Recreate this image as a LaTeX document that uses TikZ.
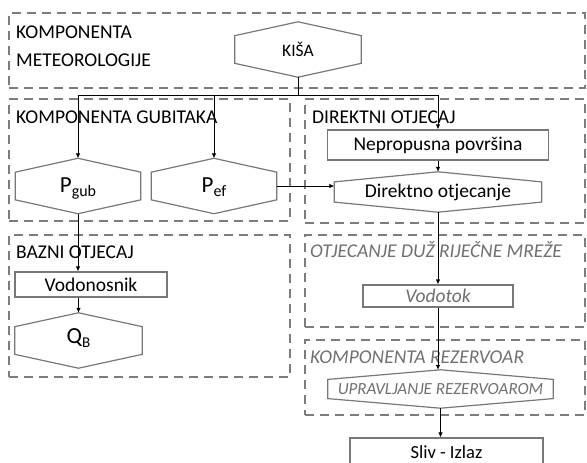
\documentclass[tikz,border=0pt]{standalone}
\usepackage{fontspec}
\setmainfont{Carlito}
\usepackage{xcolor}
\usepackage{tikz}
\usetikzlibrary{arrows.meta, positioning, calc}
\definecolor{framegray}{RGB}{125, 125, 125}
\definecolor{shapegray}{RGB}{120, 120, 120}
\definecolor{textgray}{RGB}{112, 112, 112}

% hexagon outline drawn round a (borderless) node
\newcommand{\hexoutline}[1]{%
    \draw[hex_line] ($(#1.north west)!0.25!(#1.south west)$) -- (#1.north)
        -- ($(#1.north east)!0.25!(#1.south east)$) -- ($(#1.south east)!0.25!(#1.north east)$)
        -- (#1.south) -- ($(#1.south west)!0.25!(#1.north west)$) -- cycle;
}

\begin{document}
\begin{tikzpicture}[
    x=1pt, y=-1pt,
    >=Latex,
    group/.style={
        rectangle, draw=framegray, line width=2pt, dash pattern=on 9pt off 6pt,
        inner sep=0pt
    },
    group_title/.style={anchor=base west, inner sep=0pt, font=\fontsize{19.5}{28}\selectfont},
    group_title_it/.style={group_title, text=textgray, font=\fontsize{19.5}{28}\selectfont\itshape},
    hex_line/.style={draw=shapegray, line width=1.2pt},
    hexnode/.style={rectangle, inner sep=0pt, align=center, font=\fontsize{19.5}{23}\selectfont},
    box/.style={
        rectangle, draw=shapegray, line width=1.2pt, fill=white, inner sep=0pt,
        align=center, font=\fontsize{19.5}{23}\selectfont
    },
    flow/.style={draw=black, line width=0.8pt, -{Latex[length=5pt,width=4.5pt]}},
    plain/.style={draw=black, line width=0.8pt}
]
    \useasboundingbox (0,0) rectangle (587,463);
    \clip (0,0) rectangle (587,463);

    % --- Dashed component frames ---
    \node[group, minimum width=576, minimum height=75] (meteo) at (297, 50.5) {};
    \node[group, minimum width=281, minimum height=122] (gubici) at (149.5, 160) {};
    \node[group, minimum width=280, minimum height=124] (direktni) at (445, 161) {};
    \node[group, minimum width=281, minimum height=142] (bazni) at (149.5, 306) {};
    \node[group, minimum width=280, minimum height=92] (mreza) at (445, 281) {};
    \node[group, minimum width=280, minimum height=75] (rezervoar) at (445, 377.5) {};

    % --- Frame titles ---
    \node[group_title, anchor=north west, align=left] (t_meteo) at (16, 26) {KOMPONENTA\\METEOROLOGIJE};
    \node[group_title] (t_gubici) at (16, 123.5) {KOMPONENTA GUBITAKA};
    \node[group_title] (t_direktni) at (312, 123.5) {DIREKTNI OTJECAJ};
    \node[group_title] (t_bazni) at (16, 258) {BAZNI OTJECAJ};
    \node[group_title_it] (t_mreza) at (310, 257.5) {OTJECANJE DUŽ RIJEČNE MREŽE};
    \node[group_title_it] (t_rezervoar) at (310, 363) {KOMPONENTA REZERVOAR};

    % --- Meteorology ---
    \node[hexnode, minimum width=126, minimum height=55, font=\fontsize{17.5}{21}\selectfont] (kisa) at (298, 49.5) {KIŠA};
    \hexoutline{kisa}

    % --- Losses ---
    \node[hexnode, minimum width=125, minimum height=55, font=\fontsize{23}{27}\selectfont,
        text height=15pt, text depth=3pt] (pgub) at (78, 186)
        {P\raisebox{-4pt}{\fontsize{16}{16}\selectfont gub}};
    \hexoutline{pgub}
    \node[hexnode, minimum width=125, minimum height=55, font=\fontsize{23}{27}\selectfont,
        text height=15pt, text depth=3pt] (pef) at (214, 186)
        {P\raisebox{-4pt}{\fontsize{16}{16}\selectfont ef}};
    \hexoutline{pef}

    % --- Direct runoff ---
    \node[box, minimum width=221, minimum height=30] (neprop) at (438, 145) {Nepropusna površina};
    \node[hexnode, minimum width=207, minimum height=40] (dirotj) at (438, 192) {Direktno otjecanje};
    \hexoutline{dirotj}

    % --- Base flow ---
    \node[box, minimum width=152, minimum height=25] (vodon) at (91, 284.5) {Vodonosnik};
    \node[hexnode, minimum width=127, minimum height=55, font=\fontsize{23}{27}\selectfont,
        text height=15pt, text depth=10pt] (qb) at (78.5, 340.5)
        {Q\raisebox{-4pt}{\fontsize{15}{15}\selectfont B}};
    \hexoutline{qb}

    % --- River network and reservoir ---
    \node[box, minimum width=150, minimum height=22, text=textgray, font=\fontsize{19.5}{23}\selectfont\itshape]
        (vodotok) at (438, 296) {Vodotok};
    \node[hexnode, minimum width=225, minimum height=38, text=textgray, font=\fontsize{17}{20}\selectfont\itshape]
        (upr) at (440.5, 389) {UPRAVLJANJE REZERVOAROM};
    \hexoutline{upr}

    % --- Outlet ---
    \node[box, minimum width=193, minimum height=28, font=\fontsize{18.5}{22}\selectfont] (sliv) at (446.5, 452) {Sliv - Izlaz};

    % --- Connections ---
    \coordinate (split) at ($(kisa.south)+(0,18)$);
    \draw[plain] (kisa.south) -- (split);
    \draw[flow] (split) -| (pgub.north);
    \draw[flow] (split) -| (pef.north);
    \draw[flow] (split) -| (neprop.north);

    \draw[flow] (pef.east) -- (pef.east -| dirotj.west);
    \draw[flow] (neprop.south) -- (dirotj.north);
    \draw[flow] (dirotj.south) -- (vodotok.north);
    \draw[flow] (vodotok.south) -- (vodotok.south |- upr.north);
    \draw[flow] (upr.south) -- (upr.south |- sliv.north);

    \draw[flow] (pgub.south) -- (pgub.south |- vodon.north);
    \draw[flow] (vodon.south -| qb.north) -- (qb.north);

\end{tikzpicture}
\end{document}
